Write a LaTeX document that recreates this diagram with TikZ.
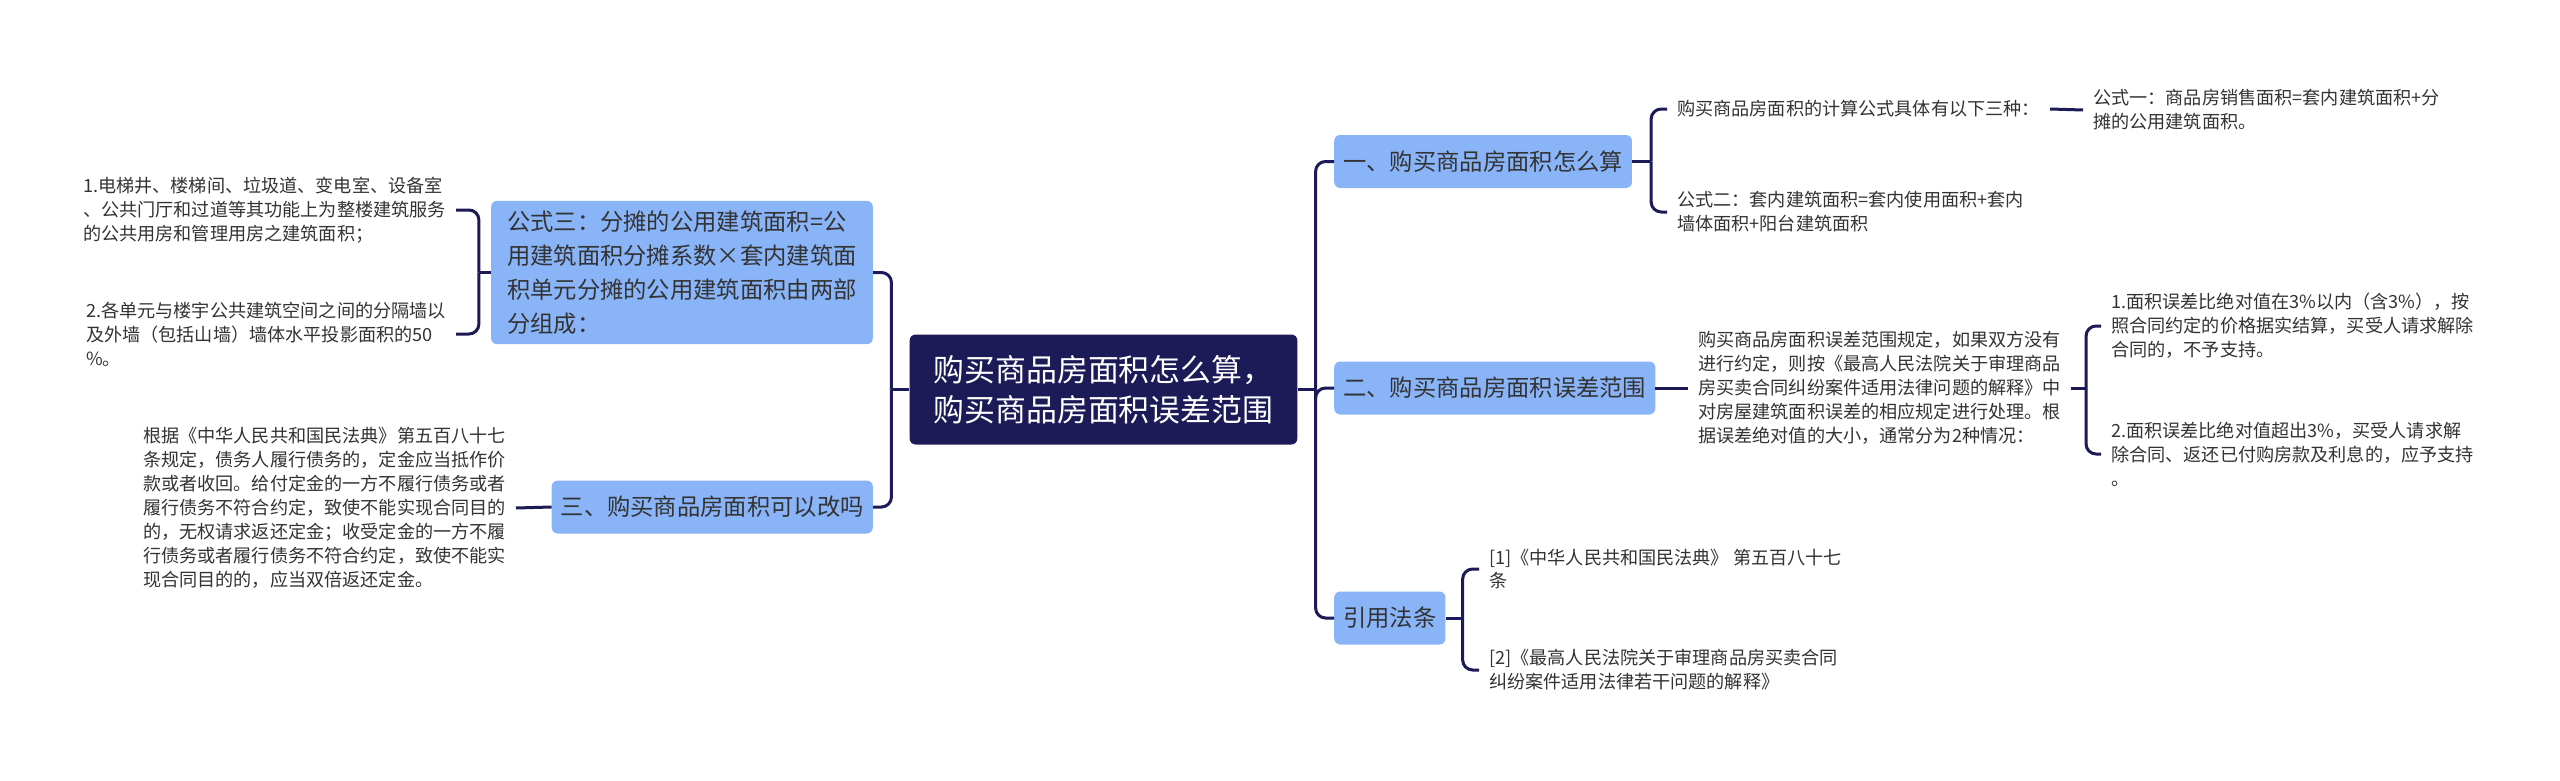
\documentclass[tikz,border=0pt]{standalone}
\usepackage{fontspec}
\setmainfont{Noto Sans CJK SC}
\definecolor{navy}{HTML}{1C1B57}
\definecolor{topicblue}{HTML}{8AB4F8}
\definecolor{inkgray}{HTML}{333333}

\begin{document}
\begin{tikzpicture}[
    x=1bp, y=-1bp,
    root/.style={fill=navy, text=white, rounded corners=6bp, align=left, inner xsep=24bp, minimum height=110bp, font=\fontsize{31}{40}\selectfont},
    topic/.style={fill=topicblue, text=inkgray, rounded corners=6bp, align=left, inner xsep=9bp, minimum height=53bp, font=\fontsize{23.4}{34}\selectfont},
    leaf/.style={text=inkgray, align=left, inner xsep=10bp, inner ysep=3bp, font=\fontsize{18.2}{24}\selectfont},
    link/.style={draw=navy, line width=3bp, rounded corners=10bp}
]
  \useasboundingbox [fill=white] (0,0) rectangle (2560,781);

  % Root
  \node (root) [root] at (1103.5,389.5) {购买商品房面积怎么算，\\购买商品房面积误差范围};

  % Topics right
  \node (calc) [topic, anchor=west] at (1334,161.5) {一、购买商品房面积怎么算};
  \node (err) [topic, anchor=west] at (1334,388) {二、购买商品房面积误差范围};
  \node (law) [topic, anchor=west] at (1334,618) {引用法条};

  % Topics left
  \node (share) [topic, anchor=east, inner xsep=16bp, inner ysep=10bp] at (873,272.5) {公式三：分摊的公用建筑面积=公\\用建筑面积分摊系数×套内建筑面\\积单元分摊的公用建筑面积由两部\\分组成：};
  \node (change) [topic, anchor=east] at (873,507) {三、购买商品房面积可以改吗};

  % Leaves right
  \node (three) [leaf, anchor=west] at (1667,109) {购买商品房面积的计算公式具体有以下三种：};
  \node (f1) [leaf, anchor=west] at (2083,110) {公式一：商品房销售面积=套内建筑面积+分\\摊的公用建筑面积。};
  \node (f2) [leaf, anchor=west] at (1667,212) {公式二：套内建筑面积=套内使用面积+套内\\墙体面积+阳台建筑面积};
  \node (rule) [leaf, anchor=west] at (1688,388) {购买商品房面积误差范围规定，如果双方没有\\进行约定，则按《最高人民法院关于审理商品\\房买卖合同纠纷案件适用法律问题的解释》中\\对房屋建筑面积误差的相应规定进行处理。根\\据误差绝对值的大小，通常分为2种情况：};
  \node (case1) [leaf, anchor=west] at (2101,326) {1.面积误差比绝对值在3\%以内（含3\%），按\\照合同约定的价格据实结算，买受人请求解除\\合同的，不予支持。};
  \node (case2) [leaf, anchor=west] at (2101,454) {2.面积误差比绝对值超出3\%，买受人请求解\\除合同、返还已付购房款及利息的，应予支持\\。};
  \node (ref1) [leaf, anchor=west] at (1479,569) {[1]《中华人民共和国民法典》 第五百八十七\\条};
  \node (ref2) [leaf, anchor=west] at (1479,670) {[2]《最高人民法院关于审理商品房买卖合同\\纠纷案件适用法律若干问题的解释》};

  % Leaves left
  \node (part1) [leaf, anchor=east] at (456,210) {1.电梯井、楼梯间、垃圾道、变电室、设备室\\、公共门厅和过道等其功能上为整楼建筑服务\\的公共用房和管理用房之建筑面积；};
  \node (part2) [leaf, anchor=east] at (456,334) {2.各单元与楼宇公共建筑空间之间的分隔墙以\\及外墙（包括山墙）墙体水平投影面积的50\\\%。};
  \node (deposit) [leaf, anchor=east] at (516,508) {根据《中华人民共和国民法典》第五百八十七\\条规定，债务人履行债务的，定金应当抵作价\\款或者收回。给付定金的一方不履行债务或者\\履行债务不符合约定，致使不能实现合同目的\\的，无权请求返还定金；收受定金的一方不履\\行债务或者履行债务不符合约定，致使不能实\\现合同目的的，应当双倍返还定金。};

  % Links
  \draw [link] (root.east) -- ++(18,0) coordinate (jr);
  \draw [link] (jr) |- (calc.west);
  \draw [link] (jr) |- (err.west);
  \draw [link] (jr) |- (law.west);
  \draw [link] (root.west) -- ++(-18,0) coordinate (jl);
  \draw [link] (jl) |- (share.east);
  \draw [link] (jl) |- (change.east);

  \draw [link] (calc.east) -- ++(19,0) coordinate (jcalc);
  \draw [link] (jcalc) |- (three.west);
  \draw [link] (jcalc) |- (f2.west);
  \draw [link] (three.east) -- (f1.west);

  \draw [link] (err.east) -- (rule.west);
  \draw [link] (rule.east) -- ++(15,0) coordinate (jrule);
  \draw [link] (jrule) |- (case1.west);
  \draw [link] (jrule) |- (case2.west);

  \draw [link] (law.east) -- ++(17,0) coordinate (jlaw);
  \draw [link] (jlaw) |- (ref1.west);
  \draw [link] (jlaw) |- (ref2.west);

  \draw [link] (share.west) -- ++(-12,0) coordinate (jshare);
  \draw [link] (jshare) |- (part1.east);
  \draw [link] (jshare) |- (part2.east);
  \draw [link] (change.west) -- (deposit.east);
\end{tikzpicture}
\end{document}
